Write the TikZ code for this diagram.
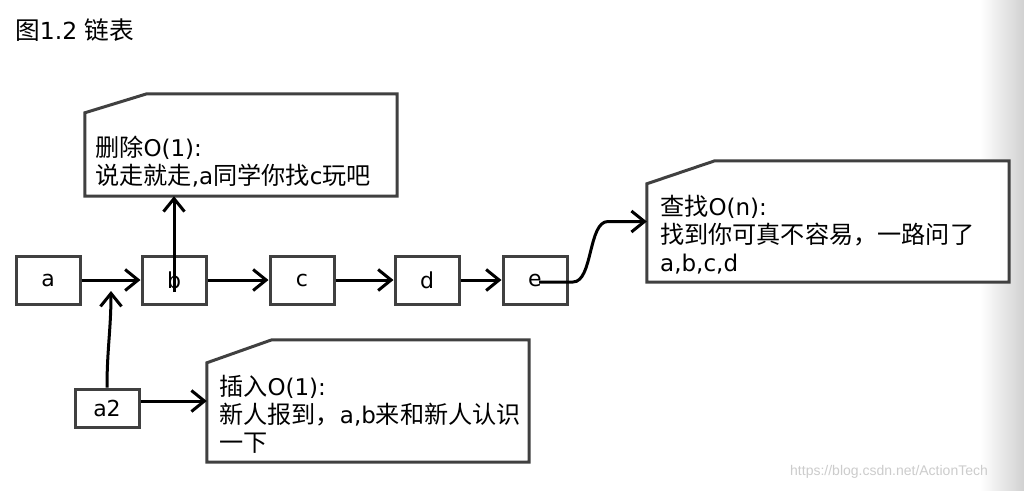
\documentclass[tikz,border=0pt]{standalone}
\usepackage{fontspec}
\setmainfont{DejaVu Sans}
\newfontfamily\cjk[Scale=1.05]{Noto Sans CJK SC}
\newfontfamily\wmfont{Liberation Sans}
\usetikzlibrary{arrows.meta,calc}
\begin{document}
\begin{tikzpicture}[x=1pt,y=-1pt,
  box/.style={draw=black!75, line width=3pt, fill=white, minimum width=64pt, minimum height=48pt, inner sep=0pt, font=\fontsize{22}{26}\selectfont},
  conn/.style={line width=3pt, black, -{Straight Barb[length=13pt,width=21pt,line width=3pt]}},
  notearea/.style={inner sep=0pt, draw=none},
  notetext/.style={anchor=north west, align=left, inner sep=0pt, font=\fontsize{23}{28}\selectfont},
  outline/.style={draw=black!75, line width=3pt, fill=white, line join=miter},
]
\useasboundingbox (0,0) rectangle (1024,490);
\fill[white] (0,0) rectangle (1024,490);
\shade[left color=white, right color=black!18] (980,0) rectangle (1024,490);

% title
\node[anchor=west, inner sep=0pt, font=\fontsize{23.5}{27}\selectfont] (title) at (15,30) {{\cjk 图}1.2 {\cjk 链表}};

% note areas
\node[notearea, minimum width=312pt, minimum height=102pt] (n1) at (241,145) {};
\node[notearea, minimum width=362pt, minimum height=121pt] (n2) at (828,221.5) {};
\node[notearea, minimum width=322pt, minimum height=122pt] (n3) at (368,401) {};

\draw[outline] ($(n1.north west)+(0,19)$) -- ($(n1.north west)+(62,0)$) -- (n1.north east) -- (n1.south east) -- (n1.south west) -- cycle;
\draw[outline] ($(n2.north west)+(0,23)$) -- ($(n2.north west)+(68,0)$) -- (n2.north east) -- (n2.south east) -- (n2.south west) -- cycle;
\draw[outline] ($(n3.north west)+(0,23)$) -- ($(n3.north west)+(65,0)$) -- (n3.north east) -- (n3.south east) -- (n3.south west) -- cycle;

\node[notetext] (t1) at (95,136) {{\cjk 删除}O(1):\\{\cjk 说走就走},a{\cjk 同学你找}c{\cjk 玩吧}};
\node[notetext] (t2) at (660,195) {{\cjk 查找}O(n):\\{\cjk 找到你可真不容易，一路问了}\\a,b,c,d};
\node[notetext] (t3) at (219,375) {{\cjk 插入}O(1):\\{\cjk 新人报到，}a,b{\cjk 来和新人认识}\\{\cjk 一下}};

% list boxes
\node[box] (a) at (48,280) {a};
\node[box] (b) at (174,280) {b};
\node[box] (c) at (302,280) {c};
\node[box] (d) at (427,280) {d};
\node[box] (e) at (535,280) {e};
\node[box, minimum height=38pt] (a2) at (107,408) {a2};

\coordinate (ins) at (111,291);

% connectors
\draw[conn] (a) -- (b);
\draw[conn] (b) -- (c);
\draw[conn] (c) -- (d);
\draw[conn] (d) -- (e);
\draw[conn] ([yshift=-12pt]b.center) -- (b.center |- n1.south);
\draw[conn] (a2.north) to[out=90,in=-90] (ins);
\draw[conn] (a2.east |- n3.west) -- (n3.west);
\draw[conn] ([xshift=4pt,yshift=-2pt]e.center) -- ++(34,0) .. controls +(20,0) and (588,221.5) .. (608,221.5) -- (n2.west);

% watermark
\node[anchor=west, inner sep=0pt, text=black!20, font=\wmfont\fontsize{14}{16}\selectfont] (wm) at (790,472) {https://blog.csdn.net/ActionTech};
\end{tikzpicture}
\end{document}
